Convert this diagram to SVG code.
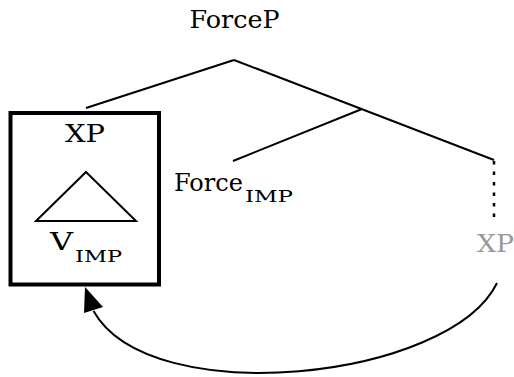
<svg xmlns="http://www.w3.org/2000/svg" width="514" height="377" viewBox="0 0 514 377">
<style>
.t{font-family:"DejaVu Serif","Liberation Serif",serif;font-size:25px;fill:#000}
.s{font-family:"DejaVu Serif","Liberation Serif",serif;font-size:17px;fill:#000}
.ln{stroke:#000;stroke-width:2;fill:none}
</style>
<rect width="514" height="377" fill="#fff"/>
<g id="edges">
<path class="ln" d="M234 60 L86 108 M234 60 L494 160 M362 109 L233 161"/>
<path d="M494 161 L494 218" stroke="#000" stroke-width="2.5" stroke-dasharray="3.5 7" fill="none"/>
<path class="ln" d="M497 283 C450 380 150 412 93.5 311"/>
<polygon points="85,287 103,307 84,313" fill="#000"/>
</g>
<g id="forceP"><text class="t" x="234.5" y="28" text-anchor="middle" textLength="90" lengthAdjust="spacingAndGlyphs">ForceP</text></g>
<g id="box">
<rect x="10.5" y="113" width="148.5" height="171.5" fill="none" stroke="#000" stroke-width="4"/>
<text class="t" x="85" y="142" text-anchor="middle" textLength="40" lengthAdjust="spacingAndGlyphs">XP</text>
<polygon points="86,172 136,221 36,221" fill="none" stroke="#000" stroke-width="2"/>
<text class="t" x="50" y="250" textLength="23" lengthAdjust="spacingAndGlyphs">V</text><text class="s" x="75" y="262" textLength="47" lengthAdjust="spacingAndGlyphs">IMP</text>
</g>
<g id="forceImp"><text class="t" x="174" y="191" textLength="69" lengthAdjust="spacingAndGlyphs">Force</text><text class="s" x="245" y="202" textLength="48" lengthAdjust="spacingAndGlyphs">IMP</text></g>
<g id="trace"><text class="t" x="477" y="252" textLength="37" lengthAdjust="spacingAndGlyphs" style="fill:#999">XP</text></g>
</svg>
